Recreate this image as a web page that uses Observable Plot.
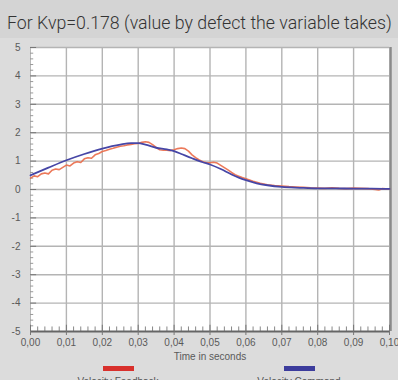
<!DOCTYPE html>
<html>
<head>
<meta charset="utf-8">
<script src="https://cdn.jsdelivr.net/npm/d3@7"></script>
<script src="https://cdn.jsdelivr.net/npm/@observablehq/plot@0.6"></script>
<style>
  html, body { margin: 0; padding: 0; }
  #wrap { position: relative; width: 398px; height: 380px; overflow: hidden; background: #dcdcdc; font-family: "Liberation Sans", Arial, sans-serif; }
  #title { height: 38px; background: #d4d4d4; }
  #title svg { display: block; }
  #chart svg { display: block; }
  .leg { position: absolute; top: 366px; width: 120px; text-align: center; font-size: 10px; color: #555; }
  .leg .sw { width: 31px; height: 5px; margin: 0 auto 5px auto; }
</style>
</head>
<body>
<div id="wrap">
  <div id="title">
    <svg width="398" height="38">
      <text id="titleText" x="0" y="29"
        font-family="Roboto, 'DejaVu Sans Condensed', sans-serif" font-weight="300" font-size="19" fill="#333">For Kvp=0.178 (value by defect the variable takes)</text>
    </svg>
  </div>
  <div id="chart"></div>
  <div class="leg" style="left:58px"><div class="sw" style="background:#d8302c"></div>Velocity Feedback</div>
  <div class="leg" style="left:239px"><div class="sw" style="background:#3c3c9c"></div>Velocity Command</div>
</div>
<script>
// Velocity command (reference profile), seconds → value
const commandTime = [0, 0.005, 0.010, 0.015, 0.020, 0.025, 0.028, 0.030, 0.032, 0.035, 0.038, 0.040, 0.042, 0.045, 0.048, 0.050, 0.053, 0.056, 0.058, 0.060, 0.063, 0.066, 0.070, 0.075, 0.080, 0.085, 0.090, 0.095, 0.100];
const commandValue = [0.50, 0.77, 1.03, 1.25, 1.44, 1.58, 1.63, 1.63, 1.58, 1.47, 1.41, 1.35, 1.25, 1.10, 0.96, 0.88, 0.72, 0.53, 0.42, 0.33, 0.22, 0.15, 0.09, 0.06, 0.04, 0.04, 0.03, 0.03, 0.02];

// Measured velocity feedback
const feedbackTime = [0, 0.001, 0.002, 0.003, 0.004, 0.005, 0.006, 0.007, 0.008, 0.009, 0.010, 0.011, 0.012, 0.013, 0.014, 0.015, 0.016, 0.017, 0.018, 0.019, 0.020, 0.021, 0.022, 0.023, 0.024, 0.025, 0.026, 0.027, 0.028, 0.029, 0.030, 0.031, 0.032, 0.033, 0.034, 0.035, 0.036, 0.037, 0.038, 0.039, 0.040, 0.041, 0.042, 0.043, 0.044, 0.045, 0.046, 0.047, 0.048, 0.049, 0.050, 0.051, 0.052, 0.053, 0.054, 0.055, 0.056, 0.057, 0.058, 0.059, 0.060, 0.062, 0.064, 0.066, 0.068, 0.070, 0.072, 0.074, 0.076, 0.078, 0.080, 0.082, 0.084, 0.086, 0.088, 0.090, 0.092, 0.094, 0.096, 0.097, 0.098, 0.100];
const feedbackValue = [0.40, 0.48, 0.45, 0.55, 0.58, 0.55, 0.68, 0.72, 0.70, 0.78, 0.86, 0.83, 0.93, 0.98, 0.95, 1.08, 1.12, 1.10, 1.22, 1.27, 1.34, 1.37, 1.42, 1.45, 1.49, 1.52, 1.54, 1.57, 1.59, 1.61, 1.62, 1.66, 1.68, 1.66, 1.58, 1.48, 1.40, 1.38, 1.38, 1.37, 1.40, 1.44, 1.46, 1.44, 1.35, 1.22, 1.12, 1.04, 0.98, 0.94, 0.94, 0.96, 0.93, 0.85, 0.77, 0.69, 0.60, 0.52, 0.47, 0.42, 0.38, 0.29, 0.22, 0.17, 0.14, 0.12, 0.10, 0.09, 0.08, 0.06, 0.05, 0.04, 0.06, 0.04, 0.03, 0.05, 0.04, 0.03, 0.00, -0.02, 0.03, 0.02];

// Axis ticks
const xTicks = [0, 0.01, 0.02, 0.03, 0.04, 0.05, 0.06, 0.07, 0.08, 0.09, 0.10];
const yTicks = [-5, -4, -3, -2, -1, 0, 1, 2, 3, 4, 5];

// Squeeze the title horizontally so it spans the header band
const titleText = document.getElementById("titleText");
const naturalWidth = titleText.getComputedTextLength();
titleText.setAttribute("transform", `translate(7,0) scale(${385 / naturalWidth},1)`);

const command = commandTime.map((t, i) => ({t, v: commandValue[i]}));
const feedback = feedbackTime.map((t, i) => ({t, v: feedbackValue[i]}));
const xMinor = d3.range(0, 101, 2).filter(k => k % 10 !== 0).map(k => k / 1000);
const yMinor = d3.range(-50, 51, 2).filter(k => k % 10 !== 0).map(k => k / 10);
const gridX = xTicks.filter(x => x > 0 && x < 0.1);
const gridY = yTicks.filter(y => y > -5);

const plot = Plot.plot({
  width: 398,
  height: 324,
  marginLeft: 30,
  marginRight: 9,
  marginTop: 9,
  marginBottom: 31,
  style: {background: "transparent", fontFamily: "'Liberation Sans', Arial, sans-serif", fontSize: "10px", color: "#5a5a5a", overflow: "visible"},
  x: {domain: [0, 0.1]},
  y: {domain: [-5, 5]},
  marks: [
    Plot.frame({fill: "white", stroke: "none"}),
    Plot.ruleX(gridX, {stroke: "#b4b4b4", strokeWidth: 1.4}),
    Plot.ruleY(gridY, {stroke: "#b4b4b4", strokeWidth: 1.4}),
    Plot.ruleX([0.1], {stroke: "#8a8a8a", strokeWidth: 2.5, dx: 1}),
    Plot.ruleX([0], {stroke: "#b8b8b8", strokeWidth: 1}),
    // inner tick marks on the value axis
    Plot.ruleY(yTicks, {x1: 0, x2: 0.0017, stroke: "#777", strokeWidth: 1}),
    Plot.ruleY(yMinor, {x1: 0, x2: 0.0009, stroke: "#999", strokeWidth: 1}),
    // inner tick marks on the time axis
    Plot.ruleX(xMinor, {y1: -5, y2: -4.84, stroke: "#888", strokeWidth: 1}),
    Plot.ruleX(xTicks, {y1: -5, y2: -4.78, stroke: "#777", strokeWidth: 1}),
    Plot.ruleY([-5], {stroke: "#666", strokeWidth: 2}),
    Plot.line(feedback, {x: "t", y: "v", stroke: "#ea6a48", strokeWidth: 1.6, strokeOpacity: 0.9, curve: "linear"}),
    Plot.line(command, {x: "t", y: "v", stroke: "#4646a6", strokeWidth: 1.8, curve: "monotone-x"}),
    Plot.axisX({ticks: xTicks, tickSize: 4, tickPadding: 3, tickFormat: d => d3.format(".2f")(d).replace(".", ","), stroke: "#777",
      label: "Time in seconds", labelAnchor: "center", labelArrow: "none", labelOffset: 28}),
    Plot.axisY({ticks: yTicks, tickSize: 0, tickPadding: 10, tickFormat: d => String(d), label: null})
  ]
});
document.getElementById("chart").appendChild(plot);
</script>
</body>
</html>
